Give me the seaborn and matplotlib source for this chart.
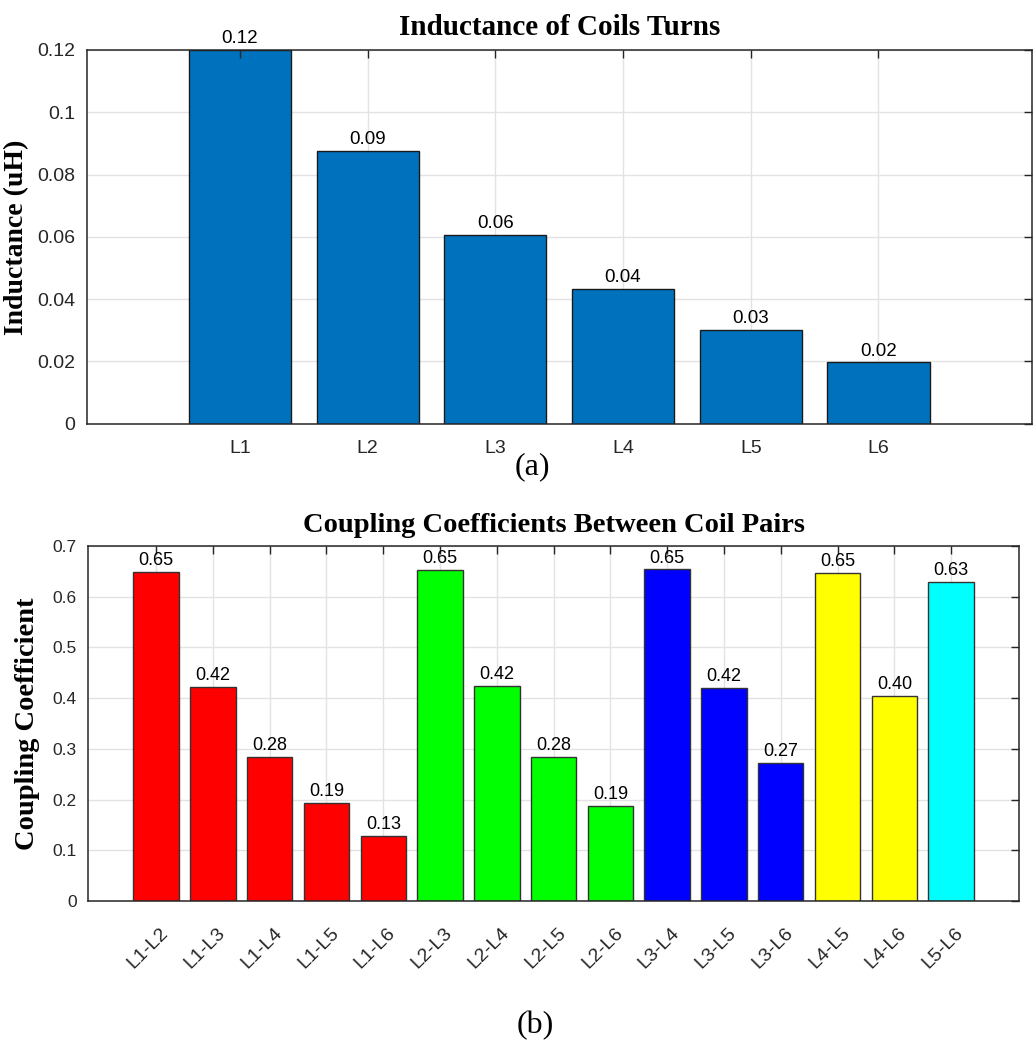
import matplotlib
matplotlib.use("Agg")
import matplotlib.pyplot as plt
import matplotlib.transforms as mtransforms
import seaborn as sns
import pandas as pd

# ---- data ----
coil_names = ["L1", "L2", "L3", "L4", "L5", "L6"]
inductance = [0.1199, 0.0876, 0.0607, 0.0432, 0.0302, 0.0197]

pair_names = ["L1-L2", "L1-L3", "L1-L4", "L1-L5", "L1-L6",
              "L2-L3", "L2-L4", "L2-L5", "L2-L6",
              "L3-L4", "L3-L5", "L3-L6",
              "L4-L5", "L4-L6",
              "L5-L6"]
coupling = [0.6487, 0.4217, 0.2836, 0.1928, 0.1289,
            0.6533, 0.4243, 0.2836, 0.1869,
            0.6540, 0.4210, 0.2724,
            0.6473, 0.4046,
            0.6290]
pair_colors = ["#FF0000"] * 5 + ["#00FF00"] * 4 + ["#0000FF"] * 3 + ["#FFFF00"] * 2 + ["#00FFFF"]

top_yticks = [0, 0.02, 0.04, 0.06, 0.08, 0.1, 0.12]
top_yticklabels = ["0", "0.02", "0.04", "0.06", "0.08", "0.1", "0.12"]
bot_yticks = [0, 0.1, 0.2, 0.3, 0.4, 0.5, 0.6, 0.7]
bot_yticklabels = ["0", "0.1", "0.2", "0.3", "0.4", "0.5", "0.6", "0.7"]

# ---- style ----
sns.set_style("white")
plt.rcParams["font.family"] = ["Liberation Sans", "DejaVu Sans"]
AX_COL = "#262626"
GRID_COL = "#e3e3e3"
SERIF = ["Liberation Serif", "DejaVu Serif"]

fig = plt.figure(figsize=(10.35, 10.43), dpi=100)
ax1 = fig.add_axes([0.0838, 0.5938, 0.9130, 0.3583])
ax2 = fig.add_axes([0.0850, 0.1361, 0.8998, 0.3404])

df1 = pd.DataFrame({"coil": coil_names, "L": inductance})
sns.barplot(data=df1, x="coil", y="L", color="#0072BD", saturation=1,
            width=0.8, edgecolor="#1a1a1a", linewidth=1.0, ax=ax1, zorder=2)

df2 = pd.DataFrame({"pair": pair_names, "k": coupling})
sns.barplot(data=df2, x="pair", y="k", hue="pair", palette=pair_colors,
            saturation=1, legend=False, width=0.8, edgecolor="#333333",
            linewidth=1.0, ax=ax2, zorder=2)


def style_axes(ax, n, yticks, yticklabels, ylim, tick_fs):
    ax.set_xlim(-1.2, n - 1 + 1.2)
    ax.set_ylim(*ylim)
    ax.set_yticks(yticks)
    ax.set_yticklabels(yticklabels)
    ax.grid(False)
    for y in yticks:
        ax.axhline(y, color=GRID_COL, lw=1.0, zorder=0.5)
    for x in range(n):
        ax.axvline(x, color=GRID_COL, lw=1.0, zorder=0.5)
    for sp in ax.spines.values():
        sp.set_visible(True)
        sp.set_color(AX_COL)
        sp.set_linewidth(1.1)
        sp.set_zorder(5)
    ax.tick_params(axis="both", direction="in", length=6, width=1.0,
                   color=AX_COL, labelcolor=AX_COL, top=True, right=True,
                   labelsize=tick_fs)
    ax.tick_params(axis="y", pad=8)
    for t in ax.xaxis.get_ticklines() + ax.yaxis.get_ticklines():
        t.set_zorder(6)
    ax.set_axisbelow(False)


style_axes(ax1, len(coil_names), top_yticks, top_yticklabels, (0, 0.12), 14)
style_axes(ax2, len(pair_names), bot_yticks, bot_yticklabels, (0, 0.7), 12.5)

ax1.tick_params(axis="x", pad=12, labelsize=14)
ax2.tick_params(axis="x", pad=17)
shift = mtransforms.ScaledTranslation(-8 / 100, 0, fig.dpi_scale_trans)
for lbl in ax2.get_xticklabels():
    lbl.set_rotation(45)
    lbl.set_ha("center")
    lbl.set_va("top")
    lbl.set_fontsize(14)
    lbl.set_transform(lbl.get_transform() + shift)

for c in ax1.containers:
    ax1.bar_label(c, fmt="%.2f", padding=2, fontsize=13.5, color="black")
for c in ax2.containers:
    ax2.bar_label(c, fmt="%.2f", padding=2, fontsize=13, color="black")

ax1.set_xlabel("")
ax2.set_xlabel("")
ax1.set_ylabel("Inductance (uH)", family=SERIF, fontweight="bold", fontsize=20, color="black")
ax2.set_ylabel("Coupling Coefficient", family=SERIF, fontweight="bold", fontsize=20.5, color="black")
ax1.yaxis.set_label_coords(-0.061, 0.5)
ax2.yaxis.set_label_coords(-0.052, 0.5)

ax1.set_title("Inductance of Coils Turns", family=SERIF, fontweight="bold",
              fontsize=21, pad=11, color="black")
ax2.set_title("Coupling Coefficients Between Coil Pairs", family=SERIF,
              fontweight="bold", fontsize=20.5, pad=10, color="black")

fig.text(532 / 1035, 1 - 467 / 1043, "(a)", family=SERIF, fontsize=23,
         ha="center", va="center", color="black")
fig.text(535 / 1035, 1 - 1026 / 1043, "(b)", family=SERIF, fontsize=23,
         ha="center", va="center", color="black")

fig.savefig("out.png", dpi=100, facecolor="white")
